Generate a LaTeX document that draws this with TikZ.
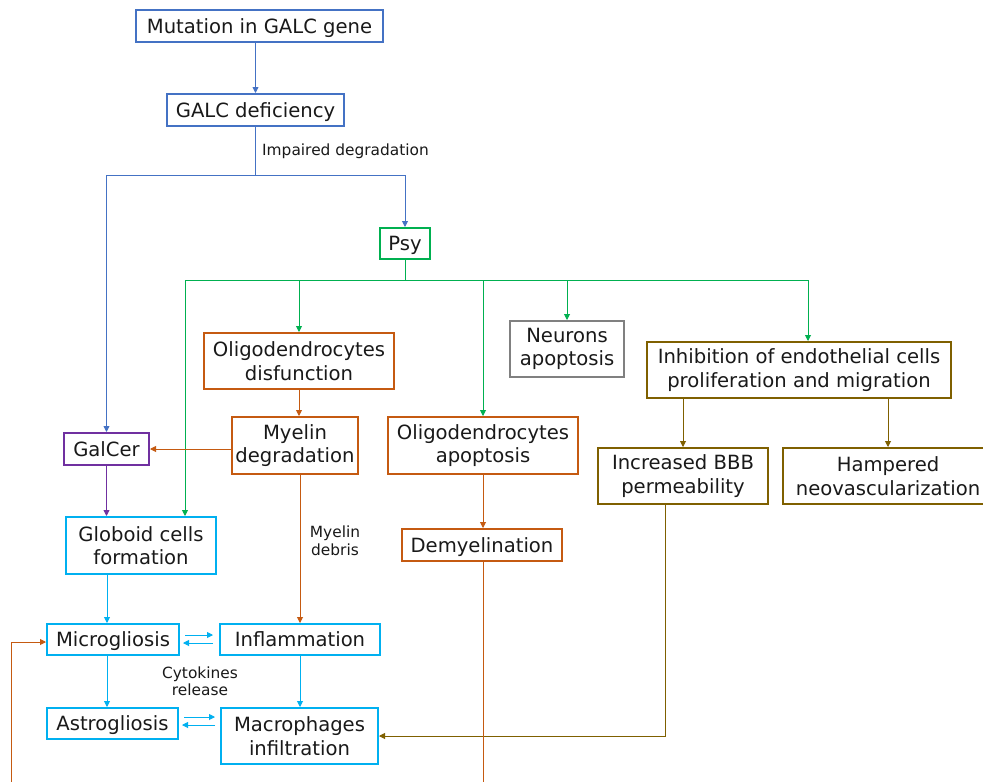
\documentclass[tikz,border=0pt]{standalone}
\usepackage{fontspec}
\setmainfont{DejaVu Sans}
\usetikzlibrary{arrows.meta,calc}
\definecolor{cblue}{HTML}{4472C4}
\definecolor{cgreen}{HTML}{00B050}
\definecolor{corange}{HTML}{C55A11}
\definecolor{ccyan}{HTML}{00B0F0}
\definecolor{cpurple}{HTML}{7030A0}
\definecolor{colive}{HTML}{7F6000}
\definecolor{cgrey}{HTML}{808080}
\tikzset{
  box/.style={line width=2pt, fill=white, align=center, inner sep=0pt,
    font=\fontsize{19.6}{23.5}\selectfont, text=black!90},
  one/.style={text height=16pt, text depth=1.7pt},
  lbl/.style={align=center, inner sep=0pt, font=\fontsize{15.4}{17.5}\selectfont, text=black!90},
  con/.style={line width=0.9pt},
  arr/.style={con, -{Triangle[length=6pt,width=6pt]}},
}
\begin{document}
\begin{tikzpicture}[x=1pt,y=-1pt]
\clip (0,0) rectangle (983,782);
\fill[white] (0,0) rectangle (983,782);
% nodes
\node[box, one, draw=cblue, minimum width=247pt, minimum height=32pt] (mut) at (259.5,26) {Mutation in GALC gene};
\node[box, one, draw=cblue, minimum width=177pt, minimum height=32pt] (def) at (255.5,110) {GALC deficiency};
\node[box, one, draw=cgreen, minimum width=50pt, minimum height=31pt] (psy) at (405,243.5) {Psy};
\node[box, draw=corange, minimum width=190pt, minimum height=56pt] (odisf) at (299,361) {Oligodendrocytes\\disfunction};
\node[box, draw=cgrey, minimum width=114pt, minimum height=56pt] (neur) at (567,349) {Neurons\\apoptosis};
\node[box, draw=colive, minimum width=304pt, minimum height=56pt] (inhib) at (799,370) {Inhibition of endothelial cells\\proliferation and migration};
\node[box, draw=corange, minimum width=126pt, minimum height=57pt] (myel) at (295,445.5) {Myelin\\degradation};
\node[box, one, draw=cpurple, minimum width=85pt, minimum height=32pt] (galcer) at (106.5,449) {GalCer};
\node[box, draw=corange, minimum width=190pt, minimum height=57pt] (oapop) at (483,445.5) {Oligodendrocytes\\apoptosis};
\node[box, draw=colive, minimum width=170pt, minimum height=56pt] (bbb) at (683,476) {Increased BBB\\permeability};
\node[box, draw=colive, minimum width=210pt, minimum height=56pt] (hamp) at (888,476) {Hampered\\neovascularization};
\node[box, draw=ccyan, minimum width=150pt, minimum height=57pt] (glob) at (141,545.5) {Globoid cells\\formation};
\node[box, one, draw=corange, minimum width=160pt, minimum height=32pt] (demy) at (482,545) {Demyelination};
\node[box, one, draw=ccyan, minimum width=132pt, minimum height=31pt] (micro) at (113,639.5) {Microgliosis};
\node[box, one, draw=ccyan, minimum width=160pt, minimum height=31pt] (infl) at (300,639.5) {Inflammation};
\node[box, one, draw=ccyan, minimum width=131pt, minimum height=31pt] (astro) at (112.5,723.5) {Astrogliosis};
\node[box, draw=ccyan, minimum width=157pt, minimum height=56pt] (macro) at (299.5,736) {Macrophages\\infiltration};
% labels
\node[lbl, anchor=west] (limp) at (262,151) {Impaired degradation};
\node[lbl] (ldeb) at (335,541) {Myelin\\debris};
\node[lbl] (lcyt) at (200,681) {Cytokines\\release};
% blue connectors
\coordinate (hub1) at (255.5,175);
\draw[arr, cblue] (def.north |- mut.south) -- (def.north);
\draw[con, cblue] (def.south) -- (hub1);
\draw[arr, cblue] (hub1) -| (galcer.north);
\draw[arr, cblue] (hub1) -| (psy.north);
% green connectors
\coordinate (hub2) at (405,280);
\draw[con, cgreen] (psy.south) -- (hub2);
\draw[arr, cgreen] (hub2) -| ([xshift=44pt]glob.north);
\draw[arr, cgreen] (hub2) -| (odisf.north);
\draw[arr, cgreen] (hub2) -| (oapop.north);
\draw[arr, cgreen] (hub2) -| (neur.north);
\draw[arr, cgreen] (hub2) -| ([xshift=9pt]inhib.north);
% olive
\draw[arr, colive] (inhib.south -| bbb.north) -- (bbb.north);
\draw[arr, colive] (inhib.south -| hamp.north) -- (hamp.north);
\draw[arr, colive] ([xshift=-18pt]bbb.south) |- (macro.east);
% orange
\draw[arr, corange] (odisf.south) -- (odisf.south |- myel.north);
\draw[arr, corange] (myel.west |- galcer.east) -- (galcer.east);
\draw[arr, corange] (infl.north |- myel.south) -- (infl.north);
\draw[arr, corange] (oapop.south) -- (oapop.south |- demy.north);
\draw[arr, corange] (demy.south -| oapop.south) -- (483,800) -- (11,800) |- ([yshift=-2.5pt]micro.west);
% purple
\draw[arr, cpurple] (galcer.south) -- (galcer.south |- glob.north);
% cyan
\draw[arr, ccyan] ([xshift=-34pt]glob.south) -- ([xshift=-34pt]glob.south |- micro.north);
\draw[arr, ccyan] ([xshift=-6pt]micro.south) -- ([xshift=-6pt]micro.south |- astro.north);
\draw[arr, ccyan] (infl.south) -- (infl.south |- macro.north);
\draw[arr, ccyan] ($(micro.east)+(5pt,4.5pt)$) -- ($(micro.east -| infl.west)+(-6pt,4.5pt)$);
\draw[arr, ccyan] ($(micro.east -| infl.west)+(-6pt,-3.5pt)$) -- ($(micro.east)+(3pt,-3.5pt)$);
\draw[arr, ccyan] ($(astro.east)+(5pt,6.5pt)$) -- ($(astro.east -| macro.west)+(-5pt,6.5pt)$);
\draw[arr, ccyan] ($(astro.east -| macro.west)+(-5pt,-1.5pt)$) -- ($(astro.east)+(3pt,-1.5pt)$);
\end{tikzpicture}
\end{document}
